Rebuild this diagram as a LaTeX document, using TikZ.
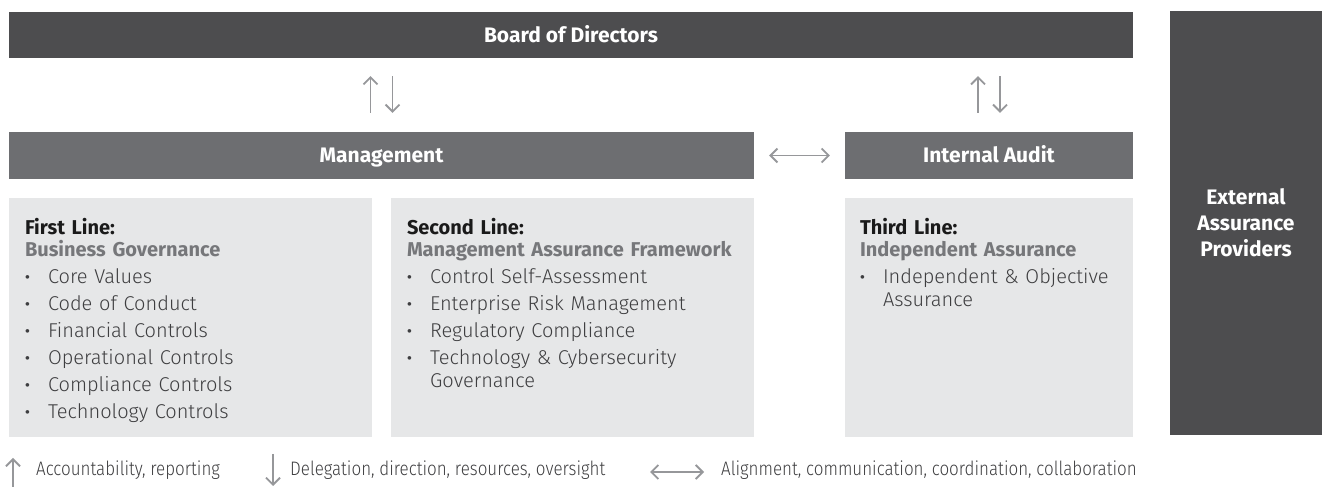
\documentclass[tikz,border=0pt]{standalone}
\usepackage{fontspec}
\setmainfont{Fira Sans Light}[BoldFont={Fira Sans Bold}]
\newfontfamily\legendfont{Fira Sans Light}[FakeStretch=0.87]
\usepackage{tikz}
\usetikzlibrary{arrows.meta,positioning}
\usepackage{xcolor}
\definecolor{boardgrey}{RGB}{77,77,79}
\definecolor{mgmtgrey}{RGB}{109,110,113}
\definecolor{panelgrey}{RGB}{230,231,232}
\definecolor{arrowgrey}{RGB}{150,151,154}
\definecolor{subgrey}{RGB}{118,119,122}
\definecolor{headblack}{RGB}{26,26,26}
\definecolor{textdark}{RGB}{62,62,64}
\newcommand{\bul}[1]{\par\noindent\makebox[23pt][l]{\textbf{\textperiodcentered}}\parbox[t]{\dimexpr\linewidth-23pt\relax}{\raggedright\hyphenpenalty=10000 #1}}
\newcommand{\linehead}[2]{{\color{headblack}\bfseries #1}\\{\color{subgrey}\bfseries #2}}

\begin{document}
\begin{tikzpicture}[x=1pt, y=1pt,
  >={Straight Barb[length=7pt,width=14pt]},
  bar/.style={minimum height=46pt, inner sep=0pt, text height=19pt, text depth=4pt, text=white, font=\fontsize{21}{26}\selectfont\bfseries},
  panel/.style={fill=panelgrey, minimum height=239pt, inner sep=0pt},
  paneltext/.style={anchor=north west, inner sep=0pt, align=left, text=textdark, font=\fontsize{20}{22.5}\selectfont},
  flow/.style={draw=arrowgrey, line width=1.8pt},
  legend/.style={anchor=base west, inner sep=0pt, text=textdark, font=\legendfont\fontsize{19.5}{22}\selectfont}]
\useasboundingbox (0,0) rectangle (1322,487);

% top row and bars
\node[bar, fill=boardgrey, minimum width=1124pt] (board) at (571,452) {Board of Directors};
\node[bar, fill=mgmtgrey, minimum width=745pt, minimum height=47pt] (mgmt) at (381.5,331.5) {Management};
\node[bar, fill=mgmtgrey, minimum width=288pt, minimum height=47pt] (audit) at (989,331.5) {Internal Audit};
\node[bar, fill=boardgrey, minimum width=152pt, minimum height=424pt, text height=, text depth=, align=center] (ext) at (1246,264) {External\\Assurance\\Providers};

% the three lines
\node[panel, minimum width=363pt] (line1) at (190.5,169.5) {};
\node[panel, minimum width=363pt] (line2) at (572.5,169.5) {};
\node[panel, minimum width=288pt] (line3) at (989,169.5) {};

\node[paneltext, text width=331pt] (line1txt) at ([xshift=16pt,yshift=-20pt]line1.north west) {%
\setlength{\parskip}{4.5pt}\linehead{First Line:}{Business Governance}
\bul{Core Values}
\bul{Code of Conduct}
\bul{Financial Controls}
\bul{Operational Controls}
\bul{Compliance Controls}
\bul{Technology Controls}};
\node[paneltext, text width=331pt] (line2txt) at ([xshift=16pt,yshift=-20pt]line2.north west) {%
\setlength{\parskip}{4.5pt}\linehead{Second Line:}{Management Assurance Framework}
\bul{Control Self-Assessment}
\bul{Enterprise Risk Management}
\bul{Regulatory Compliance}
\bul{Technology \& Cybersecurity Governance}};
\node[paneltext, text width=258pt] (line3txt) at ([xshift=15pt,yshift=-20pt]line3.north west) {%
\setlength{\parskip}{4.5pt}\linehead{Third Line:}{Independent Assurance}
\bul{Independent \& Objective Assurance}};

% arrows between bars
\draw[flow,->] ([xshift=-11pt,yshift=19pt]mgmt.north) -- ([xshift=-11pt,yshift=-18pt]mgmt.north |- board.south);
\draw[flow,->] ([xshift=11pt,yshift=-18pt]mgmt.north |- board.south) -- ([xshift=11pt,yshift=19pt]mgmt.north);
\draw[flow,->] ([xshift=-11pt,yshift=19pt]audit.north) -- ([xshift=-11pt,yshift=-18pt]audit.north |- board.south);
\draw[flow,->] ([xshift=11pt,yshift=-18pt]audit.north |- board.south) -- ([xshift=11pt,yshift=19pt]audit.north);
\draw[flow,<->] ([xshift=15pt]mgmt.east) -- ([xshift=-15pt]audit.west);

% legend
\coordinate (upfoot) at (13,0);
\coordinate (uptip) at (13,29);
\coordinate (downtop) at (273,33);
\coordinate (downtip) at (273,1);
\coordinate (bothA) at (650,15);
\coordinate (bothB) at (704,15);
\draw[flow,->] (upfoot) -- (uptip);
\draw[flow,->] (downtop) -- (downtip);
\draw[flow,<->] (bothA) -- (bothB);
\node[legend] (legup) at (36,11) {Accountability, reporting};
\node[legend] (legdown) at (290,11) {Delegation, direction, resources, oversight};
\node[legend] (legboth) at (721,11) {Alignment, communication, coordination, collaboration};
\end{tikzpicture}
\end{document}
